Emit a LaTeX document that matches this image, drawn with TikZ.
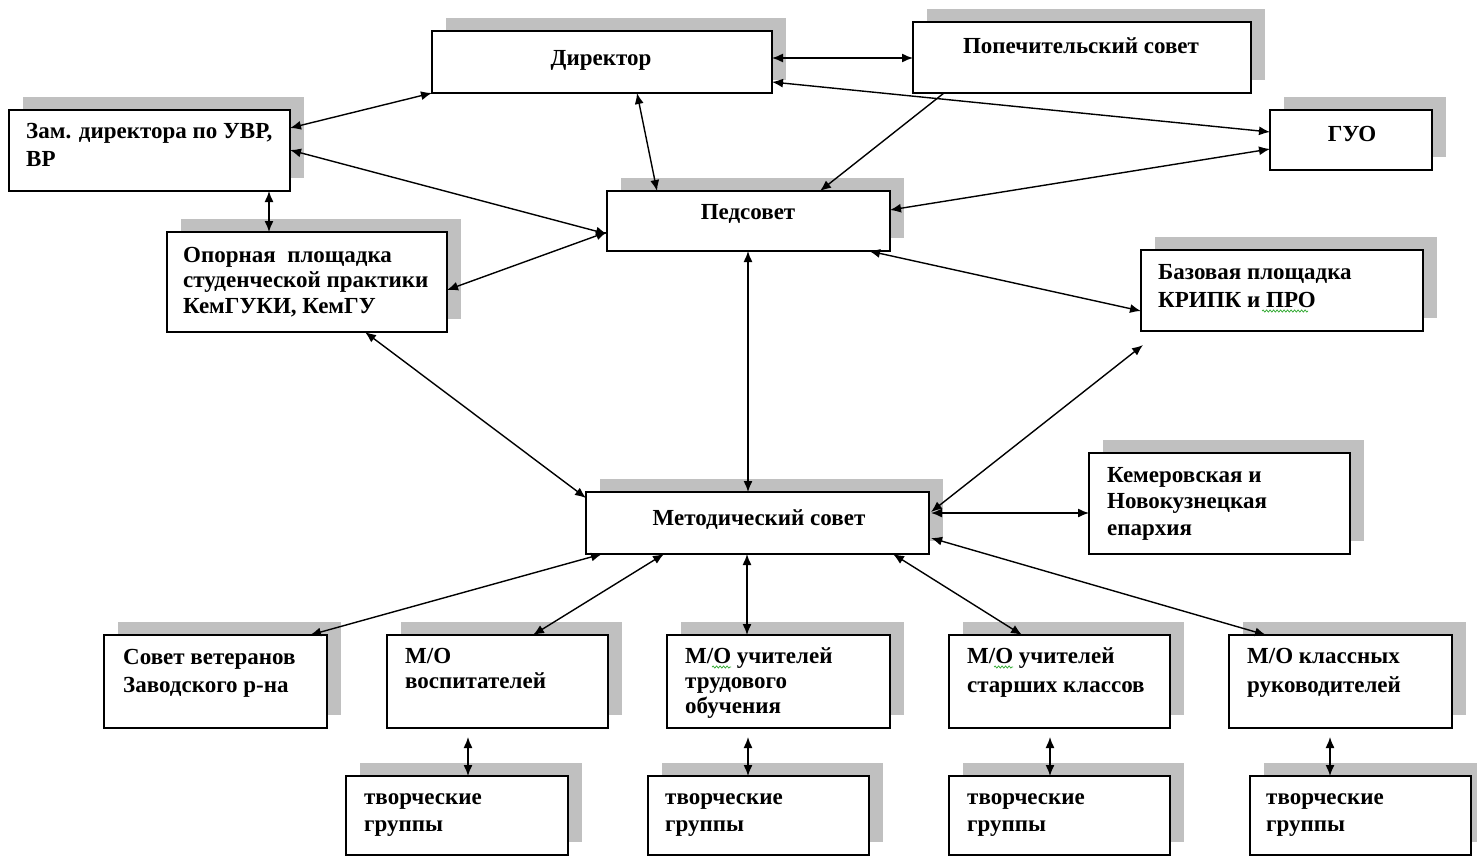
\documentclass[tikz,border=0pt]{standalone}
\usepackage{fontspec}
\setmainfont{Liberation Serif}
\usetikzlibrary{arrows.meta,decorations.pathmorphing}
\definecolor{shadowgray}{HTML}{C0C0C0}
\definecolor{squiggreen}{HTML}{2EA82E}
\tikzset{
 boxst/.style={draw=black, line width=1.5pt, fill=white, inner sep=0pt, outer sep=0pt, anchor=north west},
 shadowst/.style={fill=shadowgray, draw=none},
 txt/.style={inner sep=0pt, align=left, text=black},
 link/.style={line width=1.4pt, {Latex[length=11pt,width=9pt]}-{Latex[length=11pt,width=9pt]}},
 onelink/.style={line width=1.4pt, -{Latex[length=11pt,width=9pt]}},
 squig/.style={draw=squiggreen, line width=0.7pt, decorate, decoration={snake, amplitude=1.1pt, segment length=3.5pt}}
}
\newcommand\obox[5]{%
 \fill[shadowst] (#2+14,#3-13) rectangle (#4+14,#5-13);
 \node[boxst, minimum width={(#4)-(#2)}, minimum height={(#5)-(#3)}] (#1) at (#2,#3) {};}
\newcommand\ltext[5]{%
 \node[txt, anchor=north west, font=\bfseries\fontsize{23}{#4}\selectfont] (#1) at (#2, {#3-0.7*#4}) {\strut #5};}
\newcommand\ctext[4]{%
 \node[txt, anchor=base, font=\bfseries\fontsize{23}{27}\selectfont] (#1) at (#2,#3) {#4};}
\begin{document}
\begin{tikzpicture}[x=1pt,y=-1pt]
\fill[white] (0,0) rectangle (1477,857);
\useasboundingbox (0,0) rectangle (1477,857);
% boxes
\obox{dir}{432}{31}{772}{93}
\obox{pop}{913}{22}{1251}{93}
\obox{zam}{9}{110}{290}{191}
\obox{guo}{1270}{110}{1432}{170}
\obox{ped}{607}{191}{890}{251}
\obox{opo}{167}{232}{447}{332}
\obox{baz}{1141}{250}{1423}{331}
\obox{met}{586}{492}{929}{554}
\obox{kem}{1089}{453}{1350}{554}
\obox{sov}{104}{635}{327}{728}
\obox{vos}{387}{635}{608}{728}
\obox{tru}{667}{635}{890}{728}
\obox{sta}{949}{635}{1170}{728}
\obox{cla}{1229}{635}{1452}{728}
\obox{tga}{346}{776}{568}{855}
\obox{tgb}{648}{776}{869}{855}
\obox{tgc}{949}{776}{1170}{855}
\obox{tgd}{1250}{776}{1471}{855}
% texts
\ctext{tdir}{601}{65}{Директор}
\ctext{tpop}{1081}{53}{Попечительский совет}
\ltext{tzam}{26}{138}{28}{Зам. директора по УВР,\\ВР}
\ctext{tguo}{1352}{141}{ГУО}
\ctext{tped}{748}{219}{Педсовет}
\ltext{topo}{183}{262}{25.5}{Опорная\ \ площадка\\студенческой практики\\КемГУКИ, КемГУ}
\ltext{tbaz}{1158}{279}{28}{Базовая площадка\\КРИПК и ПРО}
\ctext{tmet}{759}{525}{Методический совет}
\ltext{tkem}{1107}{482}{26.5}{Кемеровская и\\Новокузнецкая\\епархия}
\ltext{tsov}{123}{664}{28}{Совет ветеранов\\Заводского р-на}
\ltext{tvos}{405}{663}{25}{М/О\\воспитателей}
\ltext{ttru}{685}{663}{25}{М/О учителей\\трудового\\обучения}
\ltext{tsta}{967}{663}{29}{М/О учителей\\старших классов}
\ltext{tcla}{1247}{663}{29}{М/О классных\\руководителей}
\ltext{ttga}{364}{804}{27}{творческие\\группы}
\ltext{ttgb}{665}{804}{27}{творческие\\группы}
\ltext{ttgc}{967}{804}{27}{творческие\\группы}
\ltext{ttgd}{1266}{804}{27}{творческие\\группы}
% spell-check squiggles
\draw[squig] (712,667) -- (731,667);
\draw[squig] (994,667) -- (1013,667);
\draw[squig] (1262,311) -- (1308,311);
% connectors
\draw[link] ([yshift=-18pt]zam.north east) -- (dir.south west);
\draw[link] ([yshift=-27pt]dir.north east) -- ([yshift=-36pt]pop.north west);
\draw[link] ([yshift=-51pt]dir.north east) -- ([yshift=-22pt]guo.north west);
\draw[onelink] ([xshift=31pt]pop.south west) -- ([xshift=213pt]ped.north west);
\draw[link] ([yshift=-39pt]guo.north west) -- ([yshift=-19pt]ped.north east);
\draw[link] ([yshift=-40pt]zam.north east) -- ([yshift=-43pt]ped.north west);
\draw[link] ([xshift=260pt]zam.south west) -- ([xshift=102pt]opo.north west);
\draw[link] ([yshift=-58pt]opo.north east) -- ([yshift=-41pt]ped.north west);
\draw[link] ([xshift=205pt]dir.south west) -- ([xshift=50pt]ped.north west);
\draw[link] ([xshift=-21pt]ped.south east) -- ([yshift=-61pt]baz.north west);
\draw[link] ([xshift=141pt]ped.south west) -- ([xshift=162pt]met.north west);
\draw[link] ([xshift=198pt]opo.south west) -- ([yshift=-6pt]met.north west);
\draw[link] ([xshift=2pt,yshift=-14pt]baz.south west) -- ([xshift=2pt,yshift=-20pt]met.north east);
\draw[link] ([xshift=2pt,yshift=-21pt]met.north east) -- ([yshift=-60pt]kem.north west);
\draw[link] ([xshift=2pt,yshift=-46pt]met.north east) -- ([xshift=37pt]cla.north west);
\draw[link] ([xshift=16pt]met.south west) -- ([xshift=206pt]sov.north west);
\draw[link] ([xshift=78pt]met.south west) -- ([xshift=146pt]vos.north west);
\draw[link] ([xshift=161pt]met.south west) -- ([xshift=80pt]tru.north west);
\draw[link] ([xshift=307pt]met.south west) -- ([xshift=73pt]sta.north west);
\draw[link] ([xshift=81pt,yshift=-9pt]vos.south west) -- ([xshift=122pt]tga.north west);
\draw[link] ([xshift=81pt,yshift=-9pt]tru.south west) -- ([xshift=100pt]tgb.north west);
\draw[link] ([xshift=101pt,yshift=-9pt]sta.south west) -- ([xshift=101pt]tgc.north west);
\draw[link] ([xshift=101pt,yshift=-9pt]cla.south west) -- ([xshift=80pt]tgd.north west);
\end{tikzpicture}
\end{document}
